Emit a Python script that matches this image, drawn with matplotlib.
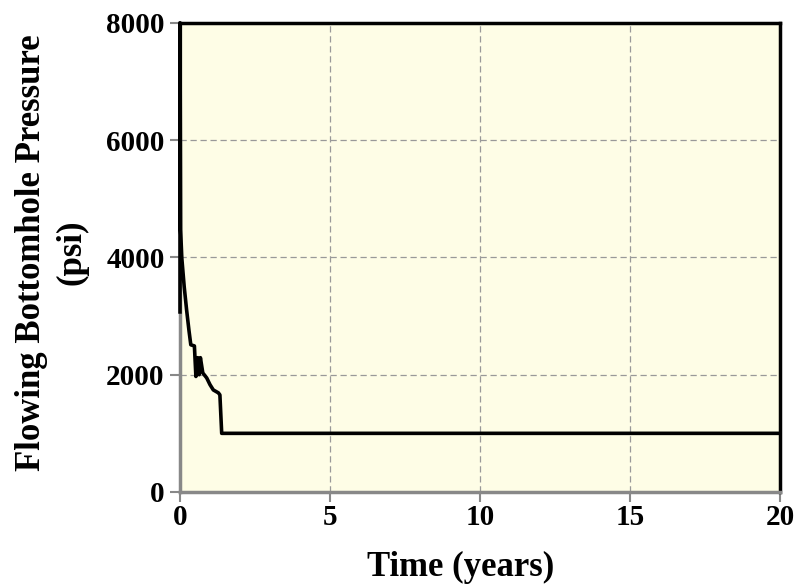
import matplotlib
matplotlib.use("Agg")
import matplotlib.pyplot as plt

# flowing bottomhole pressure history (years, psi)
time_yr = [0.0, 0.0, 0.02, 0.06, 0.14, 0.22, 0.30, 0.36, 0.48, 0.53, 0.59, 0.64,
           0.68, 0.76, 0.89, 1.0, 1.11, 1.28, 1.33, 1.39, 5.0, 10.0, 15.0, 20.0]
pressure_psi = [3070, 8000, 4470, 3990, 3500, 3105, 2750, 2510, 2490, 1970, 2290, 2000,
                2290, 2030, 1945, 1830, 1740, 1690, 1655, 1000, 1000, 1000, 1000, 1000]

x_ticks = [0, 5, 10, 15, 20]
y_ticks = [0, 2000, 4000, 6000, 8000]

plt.rcParams["font.family"] = ["Liberation Serif", "DejaVu Serif"]
plt.rcParams["font.weight"] = "bold"

fig = plt.figure(figsize=(8, 5.85), dpi=100)
ax = fig.add_axes([0.225, 0.159, 0.75, 0.802])
ax.set_facecolor("#fefde6")

ax.plot(time_yr, pressure_psi, color="black", lw=2.6, zorder=3, clip_on=False)

ax.set_xlim(0, 20)
ax.set_ylim(0, 8000)
ax.set_xticks(x_ticks)
ax.set_yticks(y_ticks)
ax.grid(True, color="#999999", ls=(0, (5, 3)), lw=0.9)

for side in ("top", "right"):
    ax.spines[side].set_color("black")
    ax.spines[side].set_linewidth(2.5)
for side in ("left", "bottom"):
    ax.spines[side].set_color("#888888")
    ax.spines[side].set_linewidth(2.5)

ax.tick_params(axis="both", colors="#888888", width=1.5, length=7, labelsize=21,
               labelcolor="black")
ax.tick_params(axis="x", pad=2)
ax.tick_params(axis="y", pad=4)
for lbl in ax.get_xticklabels() + ax.get_yticklabels():
    lbl.set_fontweight("bold")

ax.set_xlabel("Time (years)", fontsize=25, fontweight="bold")
ax.xaxis.set_label_coords(0.467, -0.125)
ax.set_ylabel("Flowing Bottomhole Pressure\n(psi)", fontsize=25, fontweight="bold",
              linespacing=1.3)
ax.yaxis.set_label_coords(-0.152, 0.51)

fig.savefig("out.png", dpi=100)
